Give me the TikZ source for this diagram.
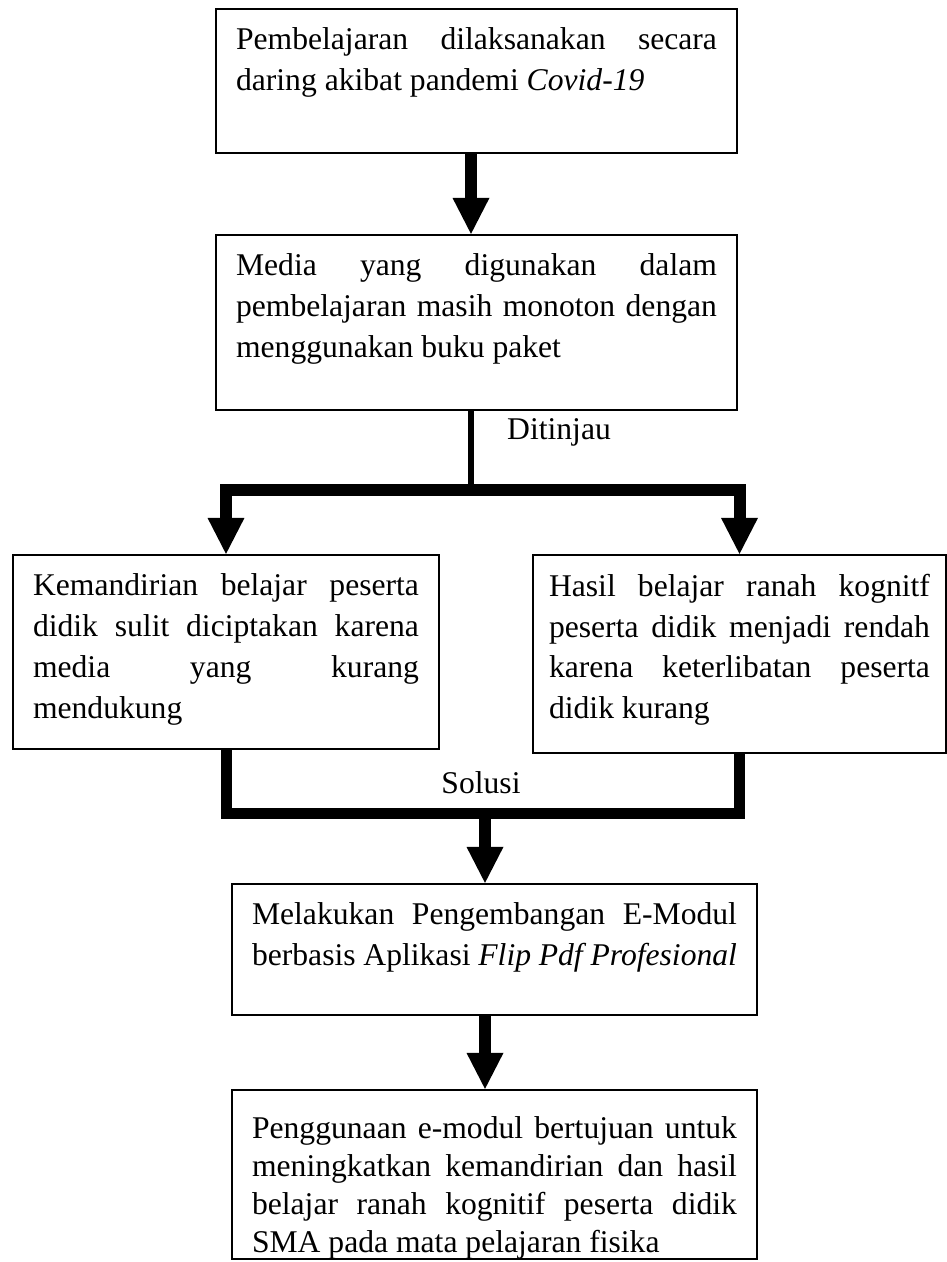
\documentclass[tikz,border=0pt]{standalone}
\usepackage{fontspec}
\setmainfont{Liberation Serif}
\usepackage{tikz}
\usetikzlibrary{arrows.meta}
\usetikzlibrary{positioning, calc}

\newcommand{\isikotak}[3]{\parbox[t][#2][t]{#1}{\tolerance=10000\hyphenpenalty=10000\hbadness=10000 #3}}

\tikzset{
  kotak/.style={draw, line width=1.3pt, inner xsep=0.4cm, inner ysep=0.38cm, font=\fontsize{18}{23.2}\selectfont},
  label teks/.style={font=\fontsize{18}{23.2}\selectfont},
  panah/.style={line width=0.24cm, -{Triangle[width=0.74cm, length=0.72cm, line width=0pt]}},
  tebal/.style={line width=0.22cm},
  tipis/.style={line width=0.13cm},
}

\begin{document}
\begin{tikzpicture}[x=0.02cm, y=-0.02cm]
    \useasboundingbox (0,0) rectangle (947,1262);

    % kotak-kotak
    \node[kotak] (daring) at (476.5,81) {\isikotak{9.62cm}{2.12cm}{Pembelajaran dilaksanakan secara\linebreak daring akibat pandemi \textit{Covid-19}}};
    \node[kotak] (media) at (476.5,322.5) {\isikotak{9.62cm}{2.74cm}{Media yang digunakan dalam\linebreak pembelajaran masih monoton dengan\linebreak menggunakan buku paket}};
    \node[kotak] (mandiri) at (226,652) {\isikotak{7.72cm}{3.12cm}{Kemandirian belajar peserta\linebreak didik sulit diciptakan karena\linebreak media yang kurang\linebreak mendukung}};
    \node[kotak, inner xsep=0.32cm] (hasil) at (739.5,654) {\isikotak{7.62cm}{3.2cm}{Hasil belajar ranah kognitf\linebreak peserta didik menjadi rendah\linebreak karena keterlibatan peserta\linebreak didik kurang}};
    \node[kotak] (emodul) at (494.5,949.5) {\isikotak{9.7cm}{1.86cm}{Melakukan Pengembangan E-Modul\linebreak berbasis Aplikasi \textit{Flip Pdf Profesional}}};
    \node[kotak, inner ysep=0.54cm, font=\fontsize{18}{21.6}\selectfont] (tujuan) at (494.5,1174.5) {\isikotak{9.7cm}{2.3cm}{Penggunaan e-modul bertujuan untuk\linebreak meningkatkan kemandirian dan hasil\linebreak belajar ranah kognitif peserta didik\linebreak SMA pada mata pelajaran fisika}};

    % titik cabang
    \coordinate (cabang) at (471,490);
    \coordinate (kumpul) at (485,813);

    % label
    \node[label teks, anchor=west] (ditinjau) at (501,432) {Ditinjau};
    \node[label teks] (solusi) at (481,783) {Solusi};

    % penghubung
    \draw[panah] (daring.south -| cabang) -- (media.north -| cabang);
    \draw[tipis] (media.south -| cabang) -- (cabang);
    \draw[panah] (cabang) -| (mandiri.north);
    \draw[panah] (cabang) -| (hasil.north);
    \draw[tebal] (mandiri.south) |- (kumpul) -| (hasil.south);
    \draw[panah] (kumpul) -- (kumpul |- emodul.north);
    \draw[panah] (kumpul |- emodul.south) -- (kumpul |- tujuan.north);
\end{tikzpicture}
\end{document}
